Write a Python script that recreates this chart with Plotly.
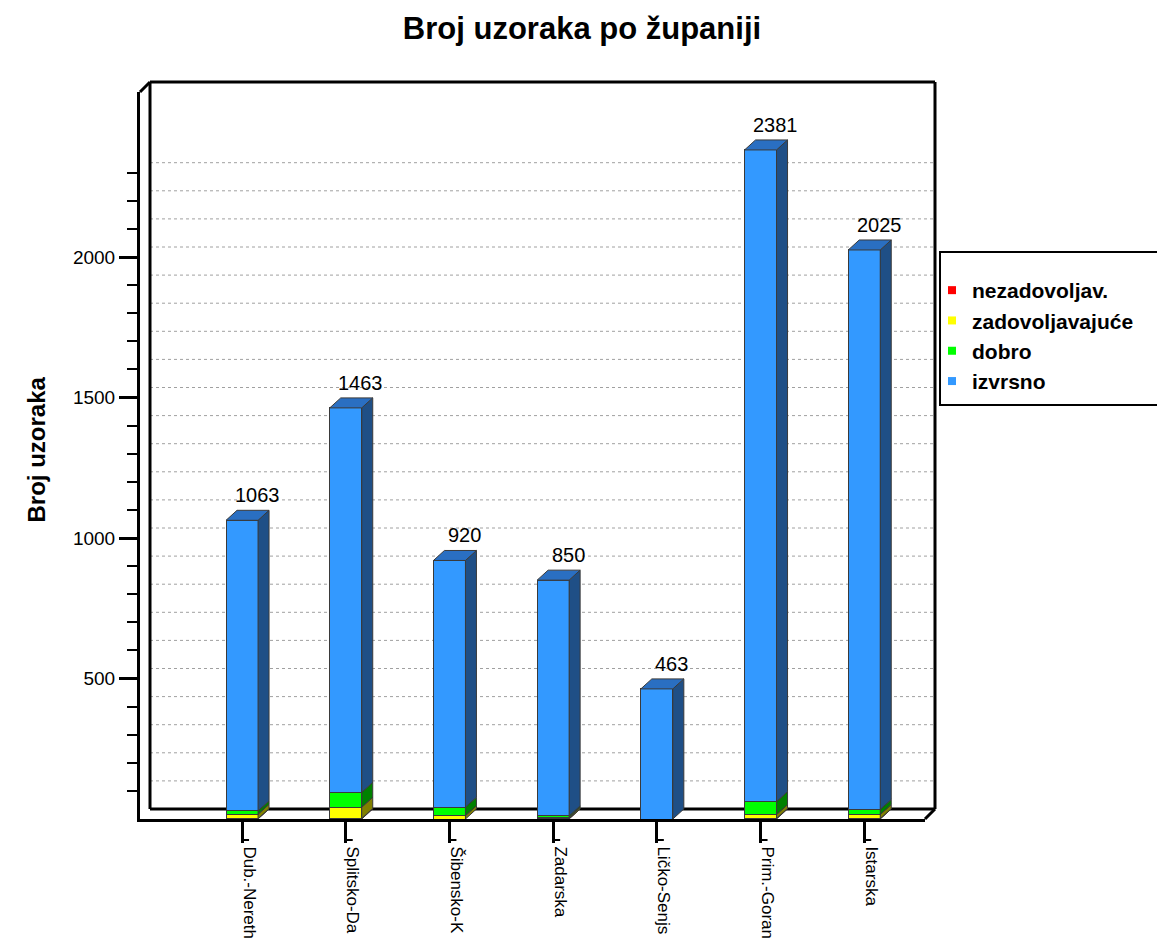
import plotly.graph_objects as go

# ---------------- data ----------------
categories = ["Dub.-Nereth", "Splitsko-Da", "Šibensko-K", "Zadarska",
              "Ličko-Senjs", "Prim.-Goran", "Istarska"]
nezadovoljav = [1, 2, 0, 1, 0, 2, 1]
zadovoljavajuce = [16, 40, 12, 5, 0, 14, 15]
dobro = [12, 53, 30, 5, 0, 46, 18]
izvrsno = [1034, 1368, 878, 839, 463, 2319, 1991]
series_names = ["nezadovoljav.", "zadovoljavajuće", "dobro", "izvrsno"]
major_ticks = [500, 1000, 1500, 2000]
minor_ticks = list(range(100, 2400, 100))
grid_values = list(range(100, 2400, 100))

# ---------------- styles ----------------
front_cols = ["#ff0000", "#ffff00", "#00ff00", "#3399ff"]
side_cols = ["#800000", "#808000", "#008000", "#1f4f86"]
top_cols = ["#c00000", "#c0c000", "#00c000", "#2a6fc2"]
edge = "#3a3a3a"
FONT = "Liberation Sans, Arial, sans-serif"

W_FIG, H_FIG = 1157, 943
L, R, T, B = 140, 232, 92, 124
PW = W_FIG - L - R
PH = H_FIG - T - B
x_range = [-0.984, -0.984 + PW / 103.7]
y_max = PH / 0.281
y_range = [0, y_max]
ppx = PW / (x_range[1] - x_range[0])
ppy = PH / (y_range[1] - y_range[0])
bar_w = 32 / ppx
DX, DY = 11, 10          # bar depth in pixels
FDX, FDY = 10, 10        # frame depth in pixels


def px_x(px):
    return (px - L) / PW


def px_y(py):
    return (H_FIG - B - py) / PH


series = [nezadovoljav, zadovoljavajuce, dobro, izvrsno]
xs = list(range(len(categories)))

fig = go.Figure()
for s, name, col in zip(series, series_names, front_cols):
    fig.add_trace(go.Bar(x=xs, y=s, name=name, width=bar_w, showlegend=False,
                         marker=dict(color=col, line=dict(color=edge, width=1))))
for name, col in zip(series_names, front_cols):
    fig.add_trace(go.Scatter(x=[None], y=[None], mode="markers",
                             name=f"<b>{name}</b>",
                             marker=dict(symbol="square", size=8, color=col,
                                         line=dict(width=0))))

shapes = []
# back-plane dashed grid
for v in grid_values:
    shapes.append(dict(type="line", xref="paper", yref="y", layer="below",
                       x0=px_x(L + FDX), x1=px_x(L + PW + FDX),
                       y0=v + FDY / ppy, y1=v + FDY / ppy,
                       line=dict(color="#a0a0a0", width=1, dash="3px,3px")))
# frame lines
fl = dict(color="black", width=3)
bottom = H_FIG - B
frame = [
    ((L + FDX, bottom - FDY), (L + FDX, T - FDY)),
    ((L, T), (L + FDX, T - FDY)),
    ((L + FDX, T - FDY), (L + PW + FDX, T - FDY)),
    ((L + PW + FDX, T - FDY), (L + PW + FDX, bottom - FDY)),
    ((L + FDX, bottom - FDY), (L + PW + FDX, bottom - FDY)),
    ((L + PW, bottom), (L + PW + FDX, bottom - FDY)),
]
for (a, b) in frame:
    shapes.append(dict(type="line", xref="paper", yref="paper", layer="below",
                       x0=px_x(a[0]), y0=px_y(a[1]), x1=px_x(b[0]), y1=px_y(b[1]),
                       line=fl))

# 3D side / top faces derived from data
dxd = DX / ppx
dyd = DY / ppy
hw = bar_w / 2
for i in xs:
    base = 0
    last = None
    for k, s in enumerate(series):
        v = s[i]
        if v <= 0:
            continue
        y0, y1 = base, base + v
        xr = i + hw
        path = (f"M {xr},{y0} L {xr + dxd},{y0 + dyd} "
                f"L {xr + dxd},{y1 + dyd} L {xr},{y1} Z")
        shapes.append(dict(type="path", xref="x", yref="y", path=path,
                           fillcolor=side_cols[k], line=dict(color=edge, width=1),
                           layer="above"))
        base = y1
        last = k
    if last is not None:
        xl = i - hw
        xr = i + hw
        path = (f"M {xl},{base} L {xl + dxd},{base + dyd} "
                f"L {xr + dxd},{base + dyd} L {xr},{base} Z")
        shapes.append(dict(type="path", xref="x", yref="y", path=path,
                           fillcolor=top_cols[last], line=dict(color=edge, width=1),
                           layer="above"))
    # tick hook
    shapes.append(dict(type="line", xref="x", yref="paper", xsizemode="pixel",
                       xanchor=i, ysizemode="pixel", yanchor=0,
                       x0=0, x1=7, y0=-21, y1=-21,
                       line=dict(color="black", width=2)))

# legend box
shapes.append(dict(type="rect", xref="paper", yref="paper",
                   x0=px_x(940), x1=px_x(1165), y0=px_y(405), y1=px_y(252),
                   line=dict(color="black", width=2), fillcolor="rgba(0,0,0,0)"))

annotations = []
totals = [sum(s[i] for s in series) for i in xs]
for i, t in zip(xs, totals):
    annotations.append(dict(x=i, y=t, xref="x", yref="y", text=str(t),
                            showarrow=False, xanchor="center", yanchor="bottom",
                            xshift=15, yshift=12,
                            font=dict(family=FONT, size=20, color="black")))
annotations.append(dict(x=px_x(20), y=px_y(450), xref="paper", yref="paper",
                        text="<b>Broj uzoraka</b>", textangle=-90, showarrow=False,
                        font=dict(family=FONT, size=24, color="black")))

fig.update_layout(
    width=W_FIG, height=H_FIG,
    margin=dict(l=L, r=R, t=T, b=B, autoexpand=False),
    paper_bgcolor="white", plot_bgcolor="white",
    barmode="stack",
    title=dict(text="<b>Broj uzoraka po županiji</b>", x=582 / W_FIG,
               xref="container", xanchor="center", y=1 - 28 / H_FIG,
               yref="container", yanchor="middle",
               font=dict(family=FONT, size=31, color="black")),
    showlegend=True,
    legend=dict(x=px_x(932), xanchor="left", y=px_y(270), yanchor="top",
                bgcolor="rgba(0,0,0,0)", borderwidth=0,
                font=dict(family=FONT, size=21, color="black"),
                itemwidth=30, traceorder="normal", tracegroupgap=0),
    shapes=shapes,
    annotations=annotations,
)
fig.update_xaxes(range=x_range, tickmode="array", tickvals=xs, ticktext=categories,
                 tickangle=90, ticks="outside", ticklen=21, tickwidth=3,
                 tickcolor="black", showline=True, linewidth=3, linecolor="black",
                 showgrid=False, zeroline=False, ticklabelshift=7,
                 tickfont=dict(family=FONT, size=17, color="black"))
fig.update_yaxes(range=y_range, tickmode="array", tickvals=major_ticks,
                 ticks="outside", ticklen=18, tickwidth=3, tickcolor="black",
                 showline=True, linewidth=3, linecolor="black",
                 showgrid=False, zeroline=False,
                 minor=dict(tickmode="array", tickvals=minor_ticks, ticks="outside",
                            ticklen=10, tickwidth=2, tickcolor="black", showgrid=False),
                 tickfont=dict(family=FONT, size=19, color="black"))

fig.write_html("out.html",
               config={"displayModeBar": False},
               post_script="document.body.style.margin='0';"
                           "document.body.style.overflow='hidden';")
